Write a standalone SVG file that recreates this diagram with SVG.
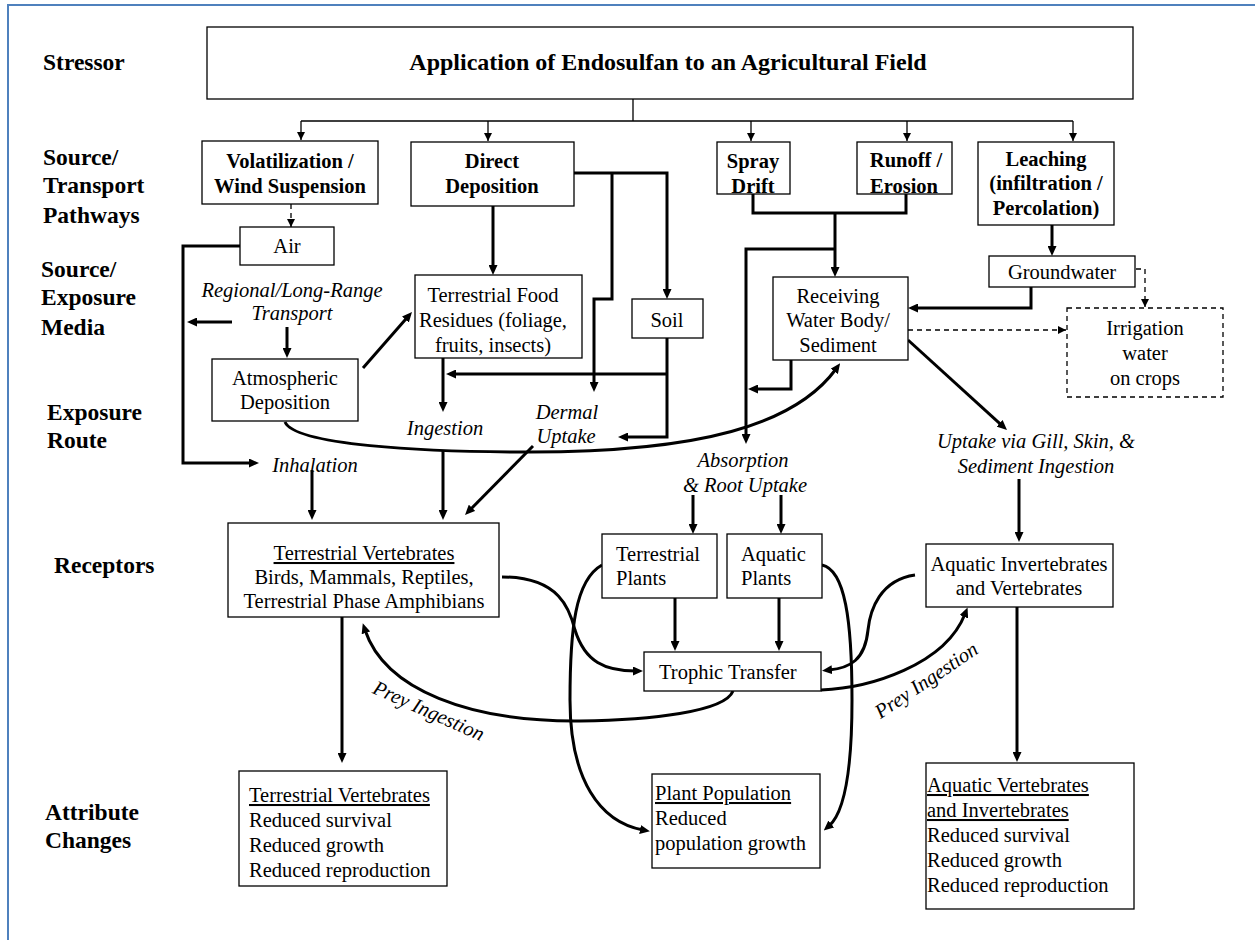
<svg xmlns="http://www.w3.org/2000/svg" width="1255" height="940" viewBox="0 0 1255 940" font-family="'Liberation Serif', Tinos, 'DejaVu Serif', serif">
<style>
.box{fill:#fff;stroke:#000;stroke-width:1.3}
.dbox{fill:#fff;stroke:#000;stroke-width:1.3;stroke-dasharray:5,4}
.thick{fill:none;stroke:#000;stroke-width:3}
.thin{fill:none;stroke:#000;stroke-width:1.3}
.dash{fill:none;stroke:#000;stroke-width:1.3;stroke-dasharray:5,4}
text{font-family:'Liberation Serif',Tinos,'DejaVu Serif',serif;fill:#000}
.h{font-size:23.5px;font-weight:bold}
.b{font-size:20.5px;font-weight:bold}
.r{font-size:20.5px}
.i{font-size:20.5px;font-style:italic}
.u{text-decoration:underline}
.c{text-anchor:middle}
</style>
<defs>
<marker id="a" markerUnits="userSpaceOnUse" markerWidth="10" markerHeight="9" viewBox="0 0 10 9" refX="3" refY="4.5" orient="auto"><path d="M0,0 L10,4.5 L0,9 z" fill="#000"/></marker>
<marker id="t" markerUnits="userSpaceOnUse" markerWidth="8" markerHeight="8" viewBox="0 0 8 8" refX="8" refY="4" orient="auto"><path d="M0,0 L8,4 L0,8 z" fill="#000"/></marker>
</defs>
<rect width="1255" height="940" fill="#fff"/>
<path d="M8,940 V5 H1255" fill="none" stroke="#4F81BD" stroke-width="2"/>

<g id="row-labels">
<text class="h" x="43" y="70">Stressor</text>
<text class="h" x="43" y="165">Source/</text>
<text class="h" x="43" y="193">Transport</text>
<text class="h" x="43" y="223">Pathways</text>
<text class="h" x="41" y="277">Source/</text>
<text class="h" x="41" y="305">Exposure</text>
<text class="h" x="41" y="335">Media</text>
<text class="h" x="47" y="420">Exposure</text>
<text class="h" x="47" y="448">Route</text>
<text class="h" x="54" y="573">Receptors</text>
<text class="h" x="45" y="820">Attribute</text>
<text class="h" x="45" y="848">Changes</text>
</g>

<g id="connectors">
<path class="thin" d="M633,99 V121 M301,121 H1073"/>
<path class="thin" d="M301,121 V140" marker-end="url(#t)"/>
<path class="thin" d="M488,121 V141" marker-end="url(#t)"/>
<path class="thin" d="M751,121 V141" marker-end="url(#t)"/>
<path class="thin" d="M907,121 V141" marker-end="url(#t)"/>
<path class="thin" d="M1073,121 V141" marker-end="url(#t)"/>
<path class="dash" d="M291,204 V227" marker-end="url(#t)"/>
<path class="dash" d="M1136,269 H1145 V307" marker-end="url(#t)"/>
<path class="dash" d="M908,330 H1066" marker-end="url(#t)"/>

<path class="thick" d="M240,246 H183 V463 H252" marker-end="url(#a)"/>
<path class="thick" d="M232,322 H194" marker-end="url(#a)"/>
<path class="thick" d="M287,327 V351" marker-end="url(#a)"/>
<path class="thick" d="M363,368 L407.4,317.3" marker-end="url(#a)"/>
<path class="thick" d="M285,422 C295,445 420,452 530,452 C700,452 795,425 836,369" marker-end="url(#a)"/>
<path class="thick" d="M493,206 V268" marker-end="url(#a)"/>
<path class="thick" d="M574,173 H667 V292" marker-end="url(#a)"/>
<path class="thick" d="M612,173 V299 H594 V385" marker-end="url(#a)"/>
<path class="thick" d="M443,358 V405" marker-end="url(#a)"/>
<path class="thick" d="M667,374 H453" marker-end="url(#a)"/>
<path class="thick" d="M667,338 V437 H625" marker-end="url(#a)"/>
<path class="thick" d="M533,446 L469.9,510" marker-end="url(#a)"/>
<path class="thick" d="M443,450 V513" marker-end="url(#a)"/>
<path class="thick" d="M312,470 V513" marker-end="url(#a)"/>
<path class="thick" d="M753,194 V213 H906 V194"/>
<path class="thick" d="M835,213 V270" marker-end="url(#a)"/>
<path class="thick" d="M835,249 H746 V437" marker-end="url(#a)"/>
<path class="thick" d="M791,360 V389 H755" marker-end="url(#a)"/>
<path class="thick" d="M1052,225 V249" marker-end="url(#a)"/>
<path class="thick" d="M1031,287 V308 H915" marker-end="url(#a)"/>
<path class="thick" d="M908,340 L1001.8,425.3" marker-end="url(#a)"/>
<path class="thick" d="M1019,479 V535" marker-end="url(#a)"/>
<path class="thick" d="M693,495 V527" marker-end="url(#a)"/>
<path class="thick" d="M781,495 V527" marker-end="url(#a)"/>
<path class="thick" d="M675,598 V644" marker-end="url(#a)"/>
<path class="thick" d="M779,598 V644" marker-end="url(#a)"/>
<path class="thick" d="M502,577 C560,577 570,610 575,630 C585,662 605,671 636,671" marker-end="url(#a)"/>
<path class="thick" d="M733,691 C725,712 650,720 580,721 C470,722 385,690 365,630" marker-end="url(#a)"/>
<path class="thick" d="M602,565 C575,580 570,630 570,700 C570,780 600,822 643,830" marker-end="url(#a)"/>
<path class="thick" d="M822,565 C845,570 852,620 852,700 C852,770 845,812 829,826" marker-end="url(#a)"/>
<path class="thick" d="M915,575 C880,580 870,610 868,630 C865,660 850,668 829,670" marker-end="url(#a)"/>
<path class="thick" d="M821,690 C870,688 945,665 965,614" marker-end="url(#a)"/>
<path class="thick" d="M342,617 V756" marker-end="url(#a)"/>
<path class="thick" d="M1017,607 V755" marker-end="url(#a)"/>
</g>

<g id="stressor">
<rect class="box" x="207" y="27" width="926" height="72"/>
<text class="c" x="668" y="70" style="font-size:24px;font-weight:bold">Application of Endosulfan to an Agricultural Field</text>
</g>
<g id="volatilization">
<rect class="box" x="202" y="141" width="176" height="63"/>
<text class="b c" x="290" y="168">Volatilization /</text>
<text class="b c" x="290" y="193">Wind Suspension</text>
</g>
<g id="direct-deposition">
<rect class="box" x="411" y="142" width="163" height="64"/>
<text class="b c" x="492" y="168">Direct</text>
<text class="b c" x="492" y="193">Deposition</text>
</g>
<g id="spray-drift">
<rect class="box" x="717" y="142" width="73" height="52"/>
<text class="b c" x="753" y="168">Spray</text>
<text class="b c" x="753" y="193">Drift</text>
</g>
<g id="runoff">
<rect class="box" x="857" y="142" width="95" height="52"/>
<text class="b c" x="906" y="167">Runoff /</text>
<text class="b c" x="904" y="193">Erosion</text>
</g>
<g id="leaching">
<rect class="box" x="978" y="142" width="136" height="83"/>
<text class="b c" x="1046" y="166">Leaching</text>
<text class="b c" x="1046" y="190">(infiltration /</text>
<text class="b c" x="1046" y="215">Percolation)</text>
</g>
<g id="air">
<rect class="box" x="240" y="227" width="94" height="38"/>
<text class="r c" x="287" y="253">Air</text>
</g>
<g id="food-residues">
<rect class="box" x="415" y="275" width="167" height="83"/>
<text class="r c" x="493" y="302">Terrestrial Food</text>
<text class="r c" x="493" y="327">Residues (foliage,</text>
<text class="r c" x="493" y="352">fruits, insects)</text>
</g>
<g id="soil">
<rect class="box" x="632" y="299" width="71" height="39"/>
<text class="r c" x="667" y="327">Soil</text>
</g>
<g id="receiving-water">
<rect class="box" x="773" y="277" width="135" height="83"/>
<text class="r c" x="838" y="303">Receiving</text>
<text class="r c" x="838" y="327">Water Body/</text>
<text class="r c" x="838" y="352">Sediment</text>
</g>
<g id="groundwater">
<rect class="box" x="989" y="256" width="146" height="31"/>
<text class="r c" x="1062" y="279">Groundwater</text>
</g>
<g id="irrigation">
<rect class="dbox" x="1067" y="308" width="156" height="89"/>
<text class="r c" x="1145" y="335">Irrigation</text>
<text class="r c" x="1145" y="360">water</text>
<text class="r c" x="1145" y="385">on crops</text>
</g>
<g id="atmospheric-deposition">
<rect class="box" x="212" y="359" width="146" height="62"/>
<text class="r c" x="285" y="385">Atmospheric</text>
<text class="r c" x="285" y="409">Deposition</text>
</g>

<g id="route-labels">
<text class="i c" x="292" y="297">Regional/Long-Range</text>
<text class="i c" x="292" y="320">Transport</text>
<text class="i c" x="445" y="435">Ingestion</text>
<text class="i c" x="567" y="419">Dermal</text>
<text class="i c" x="566" y="443">Uptake</text>
<text class="i c" x="315" y="472">Inhalation</text>
<text class="i c" x="743" y="467">Absorption</text>
<text class="i c" x="745" y="492">&amp; Root Uptake</text>
<text class="i c" x="1036" y="448">Uptake via Gill, Skin, &amp;</text>
<text class="i c" x="1036" y="473">Sediment Ingestion</text>
<text class="i c" transform="translate(426,717) rotate(24)">Prey Ingestion</text>
<text class="i c" transform="translate(930,686) rotate(-34)">Prey Ingestion</text>
</g>

<g id="terrestrial-vertebrates">
<rect class="box" x="228" y="523" width="271" height="94"/>
<text class="r c u" x="364" y="560">Terrestrial Vertebrates</text>
<text class="r c" x="364" y="584">Birds, Mammals, Reptiles,</text>
<text class="r c" x="364" y="608">Terrestrial Phase Amphibians</text>
</g>
<g id="terrestrial-plants">
<rect class="box" x="602" y="534" width="115" height="64"/>
<text class="r" x="616" y="561">Terrestrial</text>
<text class="r" x="616" y="585">Plants</text>
</g>
<g id="aquatic-plants">
<rect class="box" x="727" y="534" width="95" height="64"/>
<text class="r" x="741" y="561">Aquatic</text>
<text class="r" x="741" y="585">Plants</text>
</g>
<g id="aquatic-invertebrates">
<rect class="box" x="926" y="544" width="187" height="63"/>
<text class="r c" x="1019" y="571">Aquatic Invertebrates</text>
<text class="r c" x="1019" y="595">and Vertebrates</text>
</g>
<g id="trophic-transfer">
<rect class="box" x="644" y="652" width="177" height="39"/>
<text class="r" x="659" y="679">Trophic Transfer</text>
</g>

<g id="attr-terrestrial">
<rect class="box" x="239" y="771" width="208" height="115"/>
<text class="r u" x="249" y="802">Terrestrial Vertebrates</text>
<text class="r" x="249" y="827">Reduced survival</text>
<text class="r" x="249" y="852">Reduced growth</text>
<text class="r" x="249" y="877">Reduced reproduction</text>
</g>
<g id="attr-plants">
<rect class="box" x="652" y="774" width="168" height="94"/>
<text class="r u" x="655" y="800">Plant Population</text>
<text class="r" x="655" y="825">Reduced</text>
<text class="r" x="655" y="850">population growth</text>
</g>
<g id="attr-aquatic">
<rect class="box" x="926" y="763" width="208" height="146"/>
<text class="r u" x="927" y="792">Aquatic Vertebrates</text>
<text class="r u" x="927" y="817">and Invertebrates</text>
<text class="r" x="927" y="842">Reduced survival</text>
<text class="r" x="927" y="867">Reduced growth</text>
<text class="r" x="927" y="892">Reduced reproduction</text>
</g>
</svg>
